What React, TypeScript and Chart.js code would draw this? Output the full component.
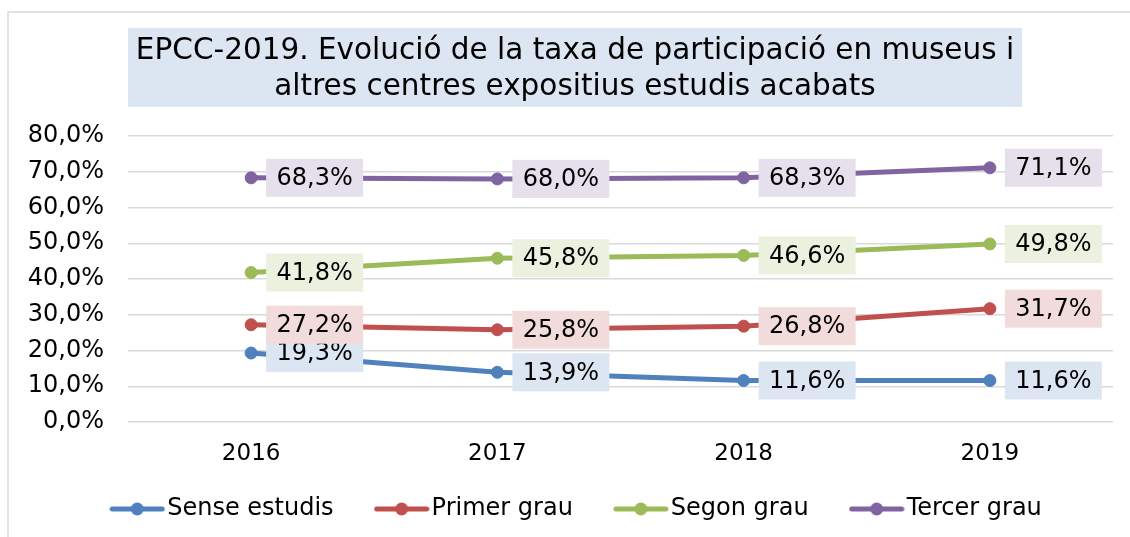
import React, { useEffect, useRef } from "react";
import { Chart, registerables } from "chart.js";

Chart.register(...registerables);

const categories = ["2016", "2017", "2018", "2019"];
const seriesNames = ["Sense estudis", "Primer grau", "Segon grau", "Tercer grau"];
const senseEstudis = [19.3, 13.9, 11.6, 11.6];
const primerGrau = [27.2, 25.8, 26.8, 31.7];
const segonGrau = [41.8, 45.8, 46.6, 49.8];
const tercerGrau = [68.3, 68.0, 68.3, 71.1];
const titleLines = [
  "EPCC-2019. Evolució de la taxa de participació en museus i",
  "altres centres expositius estudis acabats",
];
const yMin = 0;
const yMax = 80;
const yStep = 10;

const lineColors = ["#4F81BD", "#C0504D", "#9BBB59", "#8064A2"];
const labelBgColors = ["#DCE6F2", "#F2DCDB", "#EBF1DE", "#E6E0EC"];
const FONT = "'DejaVu Sans', Verdana, sans-serif";

const fmt = (v: number) => v.toFixed(1).replace(".", ",") + "%";

function makeLegendMarker(color: string) {
  const c = document.createElement("canvas");
  c.width = 56;
  c.height = 16;
  const ctx = c.getContext("2d")!;
  ctx.strokeStyle = color;
  ctx.lineWidth = 5;
  ctx.lineCap = "round";
  ctx.beginPath();
  ctx.moveTo(3, 8);
  ctx.lineTo(53, 8);
  ctx.stroke();
  ctx.fillStyle = color;
  ctx.beginPath();
  ctx.arc(28, 8, 6.5, 0, Math.PI * 2);
  ctx.fill();
  return c;
}

const framePlugin = {
  id: "frame",
  afterLayout(chart: any) {
    // widen label clip areas so tick labels are not cut
    chart.scales.y.left = 0;
    chart.scales.x.bottom = chart.height;
  },
  beforeDraw(chart: any) {
    const ctx = chart.ctx;
    ctx.save();
    ctx.fillStyle = "#FFFFFF";
    ctx.fillRect(0, 0, chart.width, chart.height);
    ctx.strokeStyle = "#D9D9D9";
    ctx.lineWidth = 1.5;
    ctx.beginPath();
    ctx.moveTo(8, chart.height);
    ctx.lineTo(8, 12);
    ctx.lineTo(chart.width, 12);
    ctx.stroke();
    // title box
    ctx.fillStyle = "#DCE6F2";
    ctx.fillRect(128, 28, 894, 79);
    ctx.fillStyle = "#000000";
    ctx.font = `29.5px ${FONT}`;
    ctx.textAlign = "center";
    ctx.textBaseline = "middle";
    ctx.fillText(titleLines[0], 575, 51);
    ctx.fillText(titleLines[1], 575, 87);
    ctx.restore();
  },
};

const labelPlugin = {
  id: "boxLabels",
  afterDatasetsDraw(chart: any) {
    const ctx = chart.ctx;
    ctx.save();
    ctx.font = `24px ${FONT}`;
    ctx.textAlign = "center";
    ctx.textBaseline = "middle";
    chart.data.datasets.forEach((ds: any, di: number) => {
      const meta = chart.getDatasetMeta(di);
      meta.data.forEach((pt: any, i: number) => {
        const bx = pt.x + 15;
        const bw = 97;
        const bh = 38;
        const by = pt.y - bh / 2;
        ctx.fillStyle = labelBgColors[di];
        ctx.fillRect(bx, by, bw, bh);
        ctx.fillStyle = "#000000";
        ctx.fillText(fmt(ds.data[i]), bx + bw / 2, pt.y + 1);
      });
    });
    ctx.restore();
  },
};

export default function App() {
  const ref = useRef<HTMLCanvasElement | null>(null);
  useEffect(() => {
    if (!ref.current) return;
    const values = [senseEstudis, primerGrau, segonGrau, tercerGrau];
    const markers = lineColors.map(makeLegendMarker);
    const chart = new Chart(ref.current, {
      type: "line",
      data: {
        labels: categories,
        datasets: values.map((d, i) => ({
          label: seriesNames[i],
          data: d,
          borderColor: lineColors[i],
          backgroundColor: lineColors[i],
          pointBackgroundColor: lineColors[i],
          pointBorderColor: lineColors[i],
          pointRadius: 6,
          pointBorderWidth: 1,
          pointStyle: "circle",
          borderWidth: 5,
          tension: 0,
          fill: false,
        })),
      },
      options: {
        animation: false,
        responsive: false,
        maintainAspectRatio: false,
        layout: { padding: { left: 48, right: 17, top: 136, bottom: 6 } },
        scales: {
          x: {
            offset: true,
            grid: { display: false, drawTicks: false },
            border: { display: false },
            ticks: { color: "#000", font: { family: FONT, size: 23 }, padding: 18 },
            afterFit: (s: any) => { s.height = 25; },
          },
          y: {
            min: yMin,
            max: yMax,
            grid: { color: "#D9D9D9", lineWidth: 1.5, drawTicks: false },
            border: { display: false },
            ticks: {
              stepSize: yStep,
              color: "#000",
              font: { family: FONT, size: 24 },
              padding: 24,
              callback: (v: any) => fmt(Number(v)),
            },
            afterFit: (s: any) => { s.width = 80; },
          },
        },
        plugins: {
          title: { display: false },
          tooltip: { enabled: false },
          legend: {
            position: "bottom",
            labels: {
              usePointStyle: true,
              pointStyleWidth: 36,
              color: "#000",
              font: { family: FONT, size: 24 },
              padding: 50,
              generateLabels: (c: any) =>
                c.data.datasets.map((ds: any, i: number) => ({
                  text: ds.label,
                  fillStyle: lineColors[i],
                  strokeStyle: lineColors[i],
                  lineWidth: 0,
                  pointStyle: markers[i],
                  hidden: false,
                  datasetIndex: i,
                  fontColor: "#000",
                })),
            },
          },
        },
      },
      plugins: [framePlugin, labelPlugin],
    });
    return () => chart.destroy();
  }, []);
  return (
    <div style={{ position: "absolute", left: 0, top: 0, width: 1130, height: 537 }}>
      <canvas ref={ref} width={1130} height={537} style={{ width: 1130, height: 537 }} />
    </div>
  );
}
